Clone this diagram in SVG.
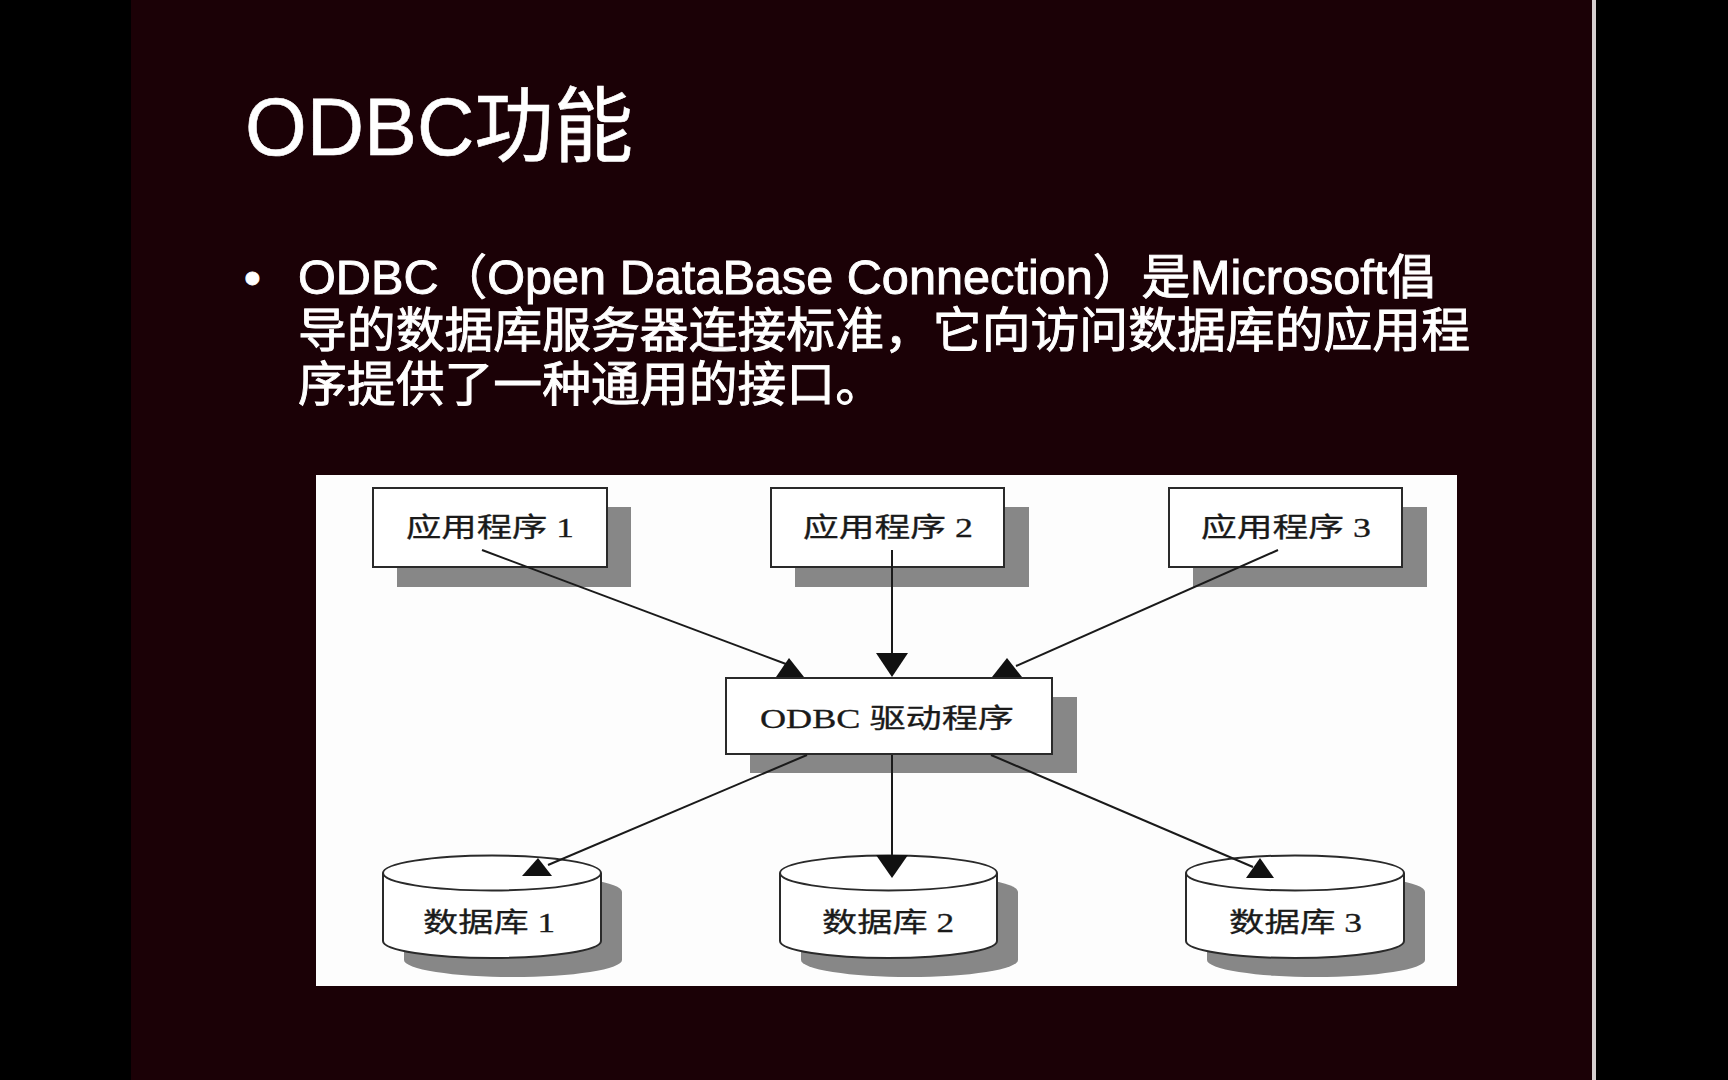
<svg xmlns="http://www.w3.org/2000/svg" width="1728" height="1080" viewBox="0 0 1728 1080">
<defs>
<style>
.slide{fill:#1b0106}
.title{font-family:"Liberation Sans","Noto Sans CJK SC",sans-serif;font-size:82px;fill:#ffffff;stroke:#ffffff;stroke-width:0.6}
.body{font-family:"Liberation Sans","Noto Sans CJK SC",sans-serif;font-size:48px;fill:#ffffff;stroke:#ffffff;stroke-width:0.9}
.box{fill:#ffffff;stroke:#2a2a2a;stroke-width:2}
.shadow{fill:#878787}
.lbl{font-family:"Liberation Serif","Noto Sans CJK SC",serif;font-size:27px;fill:#1a1a1a;stroke:#1a1a1a;stroke-width:0.3}
.conn{stroke:#1a1a1a;stroke-width:2;fill:none}
.head{fill:#111111}
</style>
</defs>
<rect x="0" y="0" width="1728" height="1080" fill="#000000"/>
<rect class="slide" x="131" y="0" width="1461" height="1080"/>
<rect x="1592" y="0" width="4" height="1080" fill="#d6cfcf"/>

<text class="title" x="245" y="155" textLength="388" lengthAdjust="spacingAndGlyphs">ODBC功能</text>

<g id="bullet">
<text class="body" x="244" y="294">•</text>
<text class="body" x="298" y="294" textLength="1138" lengthAdjust="spacingAndGlyphs">ODBC（Open DataBase Connection）是Microsoft倡</text>
<text class="body" x="298" y="347" textLength="1172" lengthAdjust="spacingAndGlyphs">导的数据库服务器连接标准，它向访问数据库的应用程</text>
<text class="body" x="298" y="401" textLength="586" lengthAdjust="spacingAndGlyphs">序提供了一种通用的接口。</text>
</g>

<rect x="316" y="475" width="1141" height="511" fill="#fdfdfd"/>

<g id="app1">
<rect class="shadow" x="397" y="507" width="234" height="80"/>
<rect class="box" x="373" y="488" width="234" height="79"/>
<text class="lbl" x="406" y="537" textLength="168" lengthAdjust="spacingAndGlyphs">应用程序 1</text>
</g>
<g id="app2">
<rect class="shadow" x="795" y="507" width="234" height="80"/>
<rect class="box" x="771" y="488" width="233" height="79"/>
<text class="lbl" x="803" y="537" textLength="170" lengthAdjust="spacingAndGlyphs">应用程序 2</text>
</g>
<g id="app3">
<rect class="shadow" x="1193" y="507" width="234" height="80"/>
<rect class="box" x="1169" y="488" width="233" height="79"/>
<text class="lbl" x="1201" y="537" textLength="170" lengthAdjust="spacingAndGlyphs">应用程序 3</text>
</g>

<g id="driver">
<rect class="shadow" x="750" y="697" width="327" height="76"/>
<rect class="box" x="726" y="678" width="326" height="76"/>
<text class="lbl" x="760" y="728" textLength="254" lengthAdjust="spacingAndGlyphs">ODBC 驱动程序</text>
</g>

<g id="db1">
<path class="shadow" d="M404,892 L404,960 A109,17 0 0 0 622,960 L622,892 A109,17.5 0 0 0 404,892 Z"/>
<path class="box" d="M383,873 L383,941 A109,17 0 0 0 601,941 L601,873"/>
<ellipse class="box" cx="492" cy="873" rx="109" ry="17.5"/>
<text class="lbl" x="423" y="932" textLength="132" lengthAdjust="spacingAndGlyphs">数据库 1</text>
</g>
<g id="db2">
<path class="shadow" d="M801,892 L801,960 A108.5,17 0 0 0 1018,960 L1018,892 A108.5,17.5 0 0 0 801,892 Z"/>
<path class="box" d="M780,873 L780,941 A108.5,17 0 0 0 997,941 L997,873"/>
<ellipse class="box" cx="888.5" cy="873" rx="108.5" ry="17.5"/>
<text class="lbl" x="822" y="932" textLength="132" lengthAdjust="spacingAndGlyphs">数据库 2</text>
</g>
<g id="db3">
<path class="shadow" d="M1207,892 L1207,960 A109,17 0 0 0 1425,960 L1425,892 A109,17.5 0 0 0 1207,892 Z"/>
<path class="box" d="M1186,873 L1186,941 A109,17 0 0 0 1404,941 L1404,873"/>
<ellipse class="box" cx="1295" cy="873" rx="109" ry="17.5"/>
<text class="lbl" x="1229" y="932" textLength="133" lengthAdjust="spacingAndGlyphs">数据库 3</text>
</g>

<g id="connectors">
<line class="conn" x1="482" y1="550" x2="786" y2="664"/>
<polygon class="head" points="776,677 804,677 789,658"/>
<line class="conn" x1="892" y1="550" x2="892" y2="656"/>
<polygon class="head" points="876,653 908,653 892,677"/>
<line class="conn" x1="1278" y1="550" x2="1016" y2="666"/>
<polygon class="head" points="992,677 1022,677 1007,658"/>
<line class="conn" x1="807" y1="755" x2="548" y2="865"/>
<polygon class="head" points="522,876 552,876 538,858"/>
<line class="conn" x1="892" y1="755" x2="892" y2="858"/>
<polygon class="head" points="876,855 908,855 892,878"/>
<line class="conn" x1="991" y1="755" x2="1253" y2="867"/>
<polygon class="head" points="1246,878 1274,878 1260,858"/>
</g>
</svg>
